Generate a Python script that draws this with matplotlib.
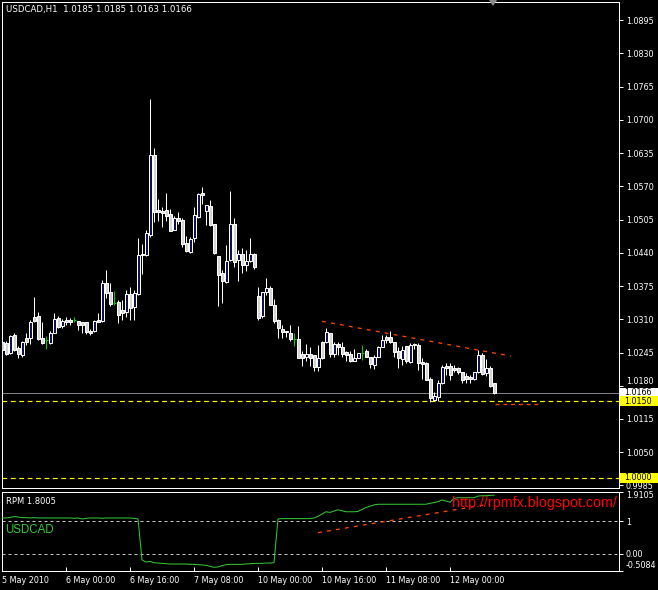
import matplotlib
matplotlib.use('Agg')
import matplotlib.pyplot as plt
from matplotlib.patches import Rectangle, Polygon
from matplotlib.transforms import blended_transform_factory, offset_copy

# ---------------- data ----------------
opens = [1.0265, 1.0264, 1.0244, 1.0280, 1.0254, 1.0240, 1.0273, 1.0273, 1.0315, 1.0317,
         1.0274, 1.0269, 1.0263, 1.0284, 1.0313, 1.0296, 1.0308, 1.0309, 1.0309, 1.0306,
         1.0304, 1.0305, 1.0288, 1.0287, 1.0308, 1.0306, 1.0381, 1.0364, 1.0341, 1.0344,
         1.0328, 1.0325, 1.0360, 1.0334, 1.0360, 1.0438, 1.0435, 1.0475, 1.0631, 1.0523,
         1.0521, 1.0523, 1.0516, 1.0485, 1.0508, 1.0504, 1.0459, 1.0442, 1.0468, 1.0510,
         1.0556, 1.0521, 1.0532, 1.0496, 1.0433, 1.0401, 1.0383, 1.0425, 1.0497, 1.0425,
         1.0438, 1.0416, 1.0424, 1.0437, 1.0356, 1.0317, 1.0363, 1.0371, 1.0338, 1.0308,
         1.0291, 1.0288, 1.0283, 1.0271, 1.0272, 1.0242, 1.0237, 1.0242, 1.0240, 1.0216,
         1.0265, 1.0265, 1.0283, 1.0242, 1.0261, 1.0256, 1.0246, 1.0242, 1.0228, 1.0235,
         1.0245, 1.0247, 1.0237, 1.0220, 1.0237, 1.0256, 1.0276, 1.0276, 1.0265, 1.0248,
         1.0233, 1.0257, 1.0226, 1.0259, 1.0260, 1.0226, 1.0224, 1.0194, 1.0152, 1.0158,
         1.0185, 1.0219, 1.0219, 1.0214, 1.0214, 1.0206, 1.0199, 1.0198, 1.0193, 1.0206,
         1.0241, 1.0204, 1.0215, 1.0185]
highs = [1.0267, 1.0267, 1.0280, 1.0284, 1.0258, 1.0267, 1.0283, 1.0308, 1.0354, 1.0324,
         1.0305, 1.0278, 1.0287, 1.0322, 1.0317, 1.0310, 1.0315, 1.0312, 1.0314, 1.0306,
         1.0304, 1.0305, 1.0291, 1.0308, 1.0322, 1.0386, 1.0407, 1.0381, 1.0366, 1.0348,
         1.0348, 1.0368, 1.0374, 1.0368, 1.0469, 1.0457, 1.0485, 1.0740, 1.0645, 1.0545,
         1.0530, 1.0557, 1.0525, 1.0512, 1.0520, 1.0507, 1.0472, 1.0470, 1.0529, 1.0556,
         1.0569, 1.0534, 1.0543, 1.0496, 1.0433, 1.0407, 1.0456, 1.0560, 1.0507, 1.0446,
         1.0449, 1.0446, 1.0469, 1.0439, 1.0374, 1.0364, 1.0390, 1.0375, 1.0350, 1.0311,
         1.0299, 1.0288, 1.0299, 1.0283, 1.0296, 1.0248, 1.0261, 1.0255, 1.0240, 1.0260,
         1.0268, 1.0293, 1.0283, 1.0266, 1.0266, 1.0266, 1.0248, 1.0248, 1.0252, 1.0245,
         1.0260, 1.0251, 1.0237, 1.0241, 1.0257, 1.0280, 1.0280, 1.0287, 1.0266, 1.0256,
         1.0257, 1.0258, 1.0263, 1.0263, 1.0263, 1.0235, 1.0227, 1.0198, 1.0168, 1.0191,
         1.0221, 1.0224, 1.0224, 1.0221, 1.0217, 1.0207, 1.0205, 1.0201, 1.0207, 1.0250,
         1.0245, 1.0232, 1.0218, 1.0185]
lows = [1.0249, 1.0240, 1.0242, 1.0247, 1.0234, 1.0236, 1.0260, 1.0262, 1.0304, 1.0270,
        1.0262, 1.0252, 1.0262, 1.0283, 1.0293, 1.0293, 1.0299, 1.0299, 1.0304, 1.0289,
        1.0283, 1.0282, 1.0279, 1.0285, 1.0304, 1.0304, 1.0351, 1.0335, 1.0337, 1.0302,
        1.0309, 1.0315, 1.0309, 1.0309, 1.0358, 1.0399, 1.0433, 1.0471, 1.0501, 1.0502,
        1.0490, 1.0502, 1.0483, 1.0484, 1.0497, 1.0451, 1.0441, 1.0439, 1.0461, 1.0507,
        1.0536, 1.0494, 1.0493, 1.0437, 1.0335, 1.0342, 1.0381, 1.0423, 1.0412, 1.0384,
        1.0400, 1.0405, 1.0421, 1.0408, 1.0309, 1.0312, 1.0358, 1.0337, 1.0302, 1.0274,
        1.0274, 1.0276, 1.0268, 1.0258, 1.0235, 1.0218, 1.0229, 1.0218, 1.0208, 1.0208,
        1.0233, 1.0263, 1.0237, 1.0236, 1.0240, 1.0237, 1.0228, 1.0227, 1.0228, 1.0234,
        1.0231, 1.0236, 1.0214, 1.0212, 1.0236, 1.0255, 1.0263, 1.0263, 1.0237, 1.0214,
        1.0221, 1.0225, 1.0224, 1.0252, 1.0211, 1.0193, 1.0192, 1.0149, 1.0150, 1.0150,
        1.0183, 1.0201, 1.0191, 1.0206, 1.0202, 1.0185, 1.0185, 1.0185, 1.0191, 1.0204,
        1.0201, 1.0200, 1.0178, 1.0163]
closes = [1.0250, 1.0242, 1.0278, 1.0250, 1.0242, 1.0265, 1.0265, 1.0305, 1.0306, 1.0272,
          1.0263, 1.0269, 1.0283, 1.0310, 1.0295, 1.0307, 1.0304, 1.0305, 1.0309, 1.0298,
          1.0298, 1.0285, 1.0283, 1.0306, 1.0304, 1.0381, 1.0361, 1.0340, 1.0341, 1.0319,
          1.0323, 1.0360, 1.0332, 1.0362, 1.0436, 1.0435, 1.0478, 1.0631, 1.0520, 1.0519,
          1.0517, 1.0512, 1.0483, 1.0508, 1.0503, 1.0457, 1.0443, 1.0467, 1.0514, 1.0555,
          1.0553, 1.0534, 1.0495, 1.0439, 1.0396, 1.0384, 1.0424, 1.0497, 1.0421, 1.0437,
          1.0416, 1.0424, 1.0437, 1.0413, 1.0313, 1.0364, 1.0371, 1.0338, 1.0307, 1.0293,
          1.0285, 1.0285, 1.0272, 1.0271, 1.0235, 1.0235, 1.0242, 1.0235, 1.0216, 1.0235,
          1.0234, 1.0285, 1.0242, 1.0261, 1.0255, 1.0242, 1.0241, 1.0228, 1.0235, 1.0244,
          1.0245, 1.0237, 1.0222, 1.0237, 1.0256, 1.0270, 1.0270, 1.0265, 1.0246, 1.0234,
          1.0250, 1.0228, 1.0259, 1.0261, 1.0224, 1.0223, 1.0192, 1.0157, 1.0160, 1.0185,
          1.0216, 1.0214, 1.0201, 1.0210, 1.0206, 1.0191, 1.0193, 1.0193, 1.0206, 1.0241,
          1.0202, 1.0215, 1.0179, 1.0166]

rpm = [1.10, 1.10, 1.12, 1.14, 1.13, 1.11, 1.11, 1.10, 1.11, 1.10,
       1.10, 1.10, 1.10, 1.10, 1.10, 1.10, 1.10, 1.10, 1.09, 1.10,
       1.07, 1.09, 1.10, 1.10, 1.10, 1.09, 1.10, 1.10, 1.10, 1.10,
       1.10, 1.10, 1.10, 1.09, 1.07, -0.18, -0.25, -0.23, -0.27, -0.28,
       -0.29, -0.30, -0.31, -0.31, -0.31, -0.31, -0.31, -0.32, -0.32, -0.33,
       -0.34, -0.35, -0.38, -0.41, -0.40, -0.36, -0.33, -0.32, -0.32, -0.32,
       -0.32, -0.31, -0.30, -0.29, -0.29, -0.29, -0.28, -0.28, -0.27, 1.07,
       1.08, 1.08, 1.08, 1.08, 1.08, 1.08, 1.08, 1.08, 1.10, 1.15,
       1.22, 1.29, 1.27, 1.31, 1.35, 1.32, 1.29, 1.29, 1.29, 1.30,
       1.36, 1.42, 1.46, 1.50, 1.52, 1.52, 1.52, 1.52, 1.52, 1.52,
       1.52, 1.52, 1.52, 1.52, 1.52, 1.52, 1.52, 1.55, 1.57, 1.60,
       1.65, 1.62, 1.58, 1.70, 1.72, 1.72, 1.72, 1.72, 1.72, 1.77,
       1.78, 1.78, 1.79, 1.8005]

time_tick_bars = [0, 16, 32, 48, 64, 80, 96, 112]
time_tick_labels = ['5 May 2010', '6 May 00:00', '6 May 16:00', '7 May 08:00',
                    '10 May 00:00', '10 May 16:00', '11 May 08:00', '12 May 00:00']

price_ticks = [0.9985, 1.0050, 1.0115, 1.0180, 1.0245, 1.0310, 1.0375, 1.0440,
               1.0505, 1.0570, 1.0635, 1.0700, 1.0765, 1.0830, 1.0895]
rpm_ticks = [-0.5084, 0.0, 1.0, 1.9105]
rpm_tick_labels = ['-0.5084', '0.00', '1', '1.9105']

trend_main_x = [80, 127.2]
trend_main_y = [1.0306, 1.0238]
short_red_x = [123.25, 134.5]
short_red_y = [1.0144, 1.0144]
trend_rpm_x = [79, 122]
trend_rpm_y = [0.65, 1.53]

current_price = 1.0166
level_lines = [1.0150, 1.0000]
rpm_levels = [0.0, 1.0]

title_text = 'USDCAD,H1  1.0185 1.0185 1.0163 1.0166'
rpm_label = 'RPM 1.8005'

# ---------------- figure ----------------
W, H = 658, 590
fig = plt.figure(figsize=(W / 100, H / 100), dpi=100, facecolor='black')

def px_axes(l, t, r, b):
    return fig.add_axes([l / W, 1 - b / H, (r - l) / W, (b - t) / H])

ax = px_axes(1.5, 1.5, 619, 488)
ax2 = px_axes(1.5, 491.5, 619, 570.5)

PX = 0.72  # one pixel in points
SMALL = 5.8
for a in (ax, ax2):
    a.set_facecolor('black')
    for s in a.spines.values():
        s.set_color('white')
        s.set_linewidth(PX)
    a.set_xlim(-0.125, 154.25)

ax.set_ylim(0.99801, 1.09312)
ax2.set_ylim(-0.5084, 1.9105)

# candles
BULL_FILL = '#10104a'
BEAR_FILL = '#d4d4d4'
DOJI = '#00d000'
bw = 0.75
for i, (o, h, l, c) in enumerate(zip(opens, highs, lows, closes)):
    if abs(c - o) < 1e-9:
        ax.vlines(i, l, h, color=DOJI, lw=PX, zorder=2)
        ax.hlines(o, i - bw / 2, i + bw / 2, color=DOJI, lw=PX, zorder=3)
        continue
    ax.vlines(i, l, h, color='white', lw=PX, zorder=2)
    fc = BULL_FILL if c > o else BEAR_FILL
    ax.add_patch(Rectangle((i - bw / 2, min(o, c)), bw, abs(c - o),
                           facecolor=fc, edgecolor='white', lw=PX, zorder=3))

# horizontal levels
ax.axhline(current_price, color='#7f7f88', lw=PX, zorder=1)
for lv in level_lines:
    ax.axhline(lv, color='#ffff00', lw=PX * 1.2, ls=(0, (4, 3)), zorder=1)
ax.plot(trend_main_x, trend_main_y, color='#ff4500', lw=PX * 1.3, ls=(0, (3, 4)), zorder=4)
ax.plot(short_red_x, short_red_y, color='#ff4500', lw=PX * 1.3, ls=(0, (3, 3)), zorder=4)

# main y axis
ax.set_xticks([])
ax.yaxis.tick_right()
ax.set_yticks(price_ticks)
ax.set_yticklabels(['%.4f' % t for t in price_ticks])
ax.tick_params(axis='y', colors='white', direction='out', length=3, width=PX,
               labelsize=SMALL, pad=2)
# the label just above the current-price box sits a little higher so it stays readable
for lab in ax.get_yticklabels():
    if lab.get_text() == '1.0180':
        lab.set_va('bottom')

# price label boxes
trans = blended_transform_factory(fig.transFigure, ax.transData)
box_h = 10 * (1.09312 - 0.99801) / 486.5
for val, col in [(current_price, 'white'), (level_lines[0], '#ffff00'), (level_lines[1], '#ffff00')]:
    ax.add_patch(Rectangle((620 / W, val - box_h / 2), 38 / W, box_h, transform=trans,
                           facecolor=col, edgecolor='none', clip_on=False, zorder=6))
    ax.text(624 / W, val, '%.4f' % val, transform=trans, color='black', fontsize=SMALL,
            ha='left', va='center', zorder=7, clip_on=False)

# lower panel
for lv in rpm_levels:
    ax2.axhline(lv, color='#c8c8c8', lw=PX, ls=(0, (3, 3)), zorder=1)
ax2.plot(range(len(rpm)), rpm, color='#33cc33', lw=PX, zorder=3)
ax2.plot(trend_rpm_x, trend_rpm_y, color='#ff4500', lw=PX * 1.3, ls=(0, (3, 4)), zorder=2)

ax2.yaxis.tick_right()
ax2.set_yticks(rpm_ticks)
ax2.set_yticklabels(rpm_tick_labels)
ax2.tick_params(axis='y', colors='white', direction='out', length=3, width=PX,
                labelsize=SMALL, pad=2)
ylabs = ax2.get_yticklabels()
ylabs[0].set_va('bottom')
ylabs[-1].set_va('top')

ax2.set_xticks(time_tick_bars)
ax2.set_xticklabels(time_tick_labels)
ax2.tick_params(axis='x', colors='white', direction='in', length=3, width=PX,
                labelsize=SMALL, pad=4)
for lab in ax2.get_xticklabels():
    lab.set_ha('left')

# texts
fig.text(6 / W, 1 - 9.5 / H, title_text, color='white', fontsize=6.2, ha='left', va='center')
fig.text(6 / W, 1 - 501.5 / H, rpm_label, color='white', fontsize=6.0, ha='left', va='center')
fig.text(5 / W, 1 - 530 / H, 'USDCAD', color='#33cc33', fontsize=8.3,
         family='Liberation Sans', ha='left', va='center')
fig.text(452 / W, 1 - 503 / H, 'http://rpmfx.blogspot.com/', color='#ff0000', fontsize=10.3,
         family='Liberation Sans', ha='left', va='center')

# chart shift marker
fig.add_artist(Polygon([[489 / W, 1.0], [497 / W, 1.0], [493 / W, 1 - 6 / H]],
                       closed=True, facecolor='#8a8a8a', edgecolor='none',
                       transform=fig.transFigure))

fig.savefig('out.png', dpi=100, facecolor='black')
